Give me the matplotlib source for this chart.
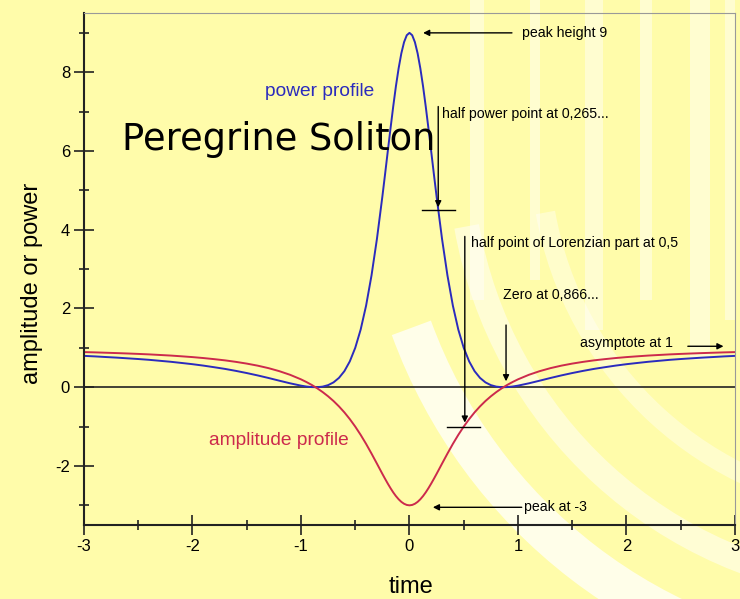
import matplotlib.pyplot as plt
from matplotlib.patches import Arc, Rectangle

plt.rcParams['axes.unicode_minus'] = False

# time samples (denser around the peak)
time = [-3.0, -2.9, -2.8, -2.7, -2.6, -2.5, -2.4, -2.3, -2.2, -2.1, -2.0,
        -1.9, -1.8, -1.7, -1.6, -1.5, -1.4, -1.3, -1.2, -1.1,
        -1.0, -0.95, -0.9, -0.85, -0.8, -0.75, -0.7, -0.65, -0.6, -0.55,
        -0.5, -0.45, -0.4, -0.35, -0.3, -0.25, -0.225, -0.2, -0.175, -0.15,
        -0.125, -0.1, -0.075, -0.05, -0.025,
        0.0, 0.025, 0.05, 0.075, 0.1, 0.125, 0.15, 0.175, 0.2, 0.225,
        0.25, 0.3, 0.35, 0.4, 0.45,
        0.5, 0.55, 0.6, 0.65, 0.7, 0.75, 0.8, 0.85, 0.9, 0.95, 1.0,
        1.1, 1.2, 1.3, 1.4, 1.5, 1.6, 1.7, 1.8, 1.9, 2.0,
        2.1, 2.2, 2.3, 2.4, 2.5, 2.6, 2.7, 2.8, 2.9, 3.0]

amplitude = [0.892, 0.885, 0.876, 0.867, 0.857, 0.846, 0.834, 0.819, 0.804, 0.785, 0.765,
             0.741, 0.713, 0.682, 0.644, 0.600, 0.548, 0.485, 0.408, 0.315,
             0.200, 0.132, 0.057, -0.028, -0.124, -0.231, -0.351, -0.487, -0.639, -0.810,
             -1.000, -1.210, -1.439, -1.685, -1.941, -2.200, -2.326, -2.448, -2.563, -2.670,
             -2.765, -2.846, -2.912, -2.960, -2.990,
             -3.000, -2.990, -2.960, -2.912, -2.846, -2.765, -2.670, -2.563, -2.448, -2.326,
             -2.200, -1.941, -1.685, -1.439, -1.210,
             -1.000, -0.810, -0.639, -0.487, -0.351, -0.231, -0.124, -0.028, 0.057, 0.132, 0.200,
             0.315, 0.408, 0.485, 0.548, 0.600, 0.644, 0.682, 0.713, 0.741, 0.765,
             0.785, 0.804, 0.819, 0.834, 0.846, 0.857, 0.867, 0.876, 0.885, 0.892]

power = [0.796, 0.783, 0.767, 0.752, 0.734, 0.716, 0.696, 0.671, 0.646, 0.616, 0.585,
         0.549, 0.508, 0.465, 0.415, 0.360, 0.300, 0.235, 0.166, 0.099,
         0.040, 0.017, 0.003, 0.001, 0.015, 0.053, 0.123, 0.237, 0.408, 0.656,
         1.000, 1.464, 2.071, 2.838, 3.767, 4.840, 5.410, 5.993, 6.569, 7.127,
         7.645, 8.100, 8.480, 8.764, 8.940,
         9.000, 8.940, 8.764, 8.480, 8.100, 7.645, 7.127, 6.569, 5.993, 5.410,
         4.840, 3.767, 2.838, 2.071, 1.464,
         1.000, 0.656, 0.408, 0.237, 0.123, 0.053, 0.015, 0.001, 0.003, 0.017, 0.040,
         0.099, 0.166, 0.235, 0.300, 0.360, 0.415, 0.465, 0.508, 0.549, 0.585,
         0.616, 0.646, 0.671, 0.696, 0.716, 0.734, 0.752, 0.767, 0.783, 0.796]

x_ticks = [-3, -2, -1, 0, 1, 2, 3]
y_ticks = [-2, 0, 2, 4, 6, 8]

bg = '#fffcaa'
blue = '#2b2bbd'
red = '#cc2a4c'
sans = ['Liberation Sans', 'DejaVu Sans']

fig = plt.figure(figsize=(7.4, 5.99), dpi=100, facecolor=bg)

# faded white picture behind the chart (rough imitation), in pixel coords
back = fig.add_axes([0, 0, 1, 1], zorder=-10)
back.set_xlim(0, 740)
back.set_ylim(599, 0)
back.axis('off')
for r, w, a, t2 in [(520, 30, 0.75, 160), (440, 18, 0.5, 170), (360, 14, 0.4, 170)]:
    back.add_patch(Arc((900, 150), 2 * r, 2 * r, theta1=95, theta2=t2,
                       color='white', lw=w, alpha=a))
for x0, w, y1 in [(470, 14, 300), (530, 10, 280), (585, 18, 330), (640, 12, 300),
                  (690, 20, 360), (725, 10, 320)]:
    back.add_patch(Rectangle((x0, 0), w, y1, color='white', alpha=0.45, lw=0))

ax = fig.add_axes([0.1135, 0.1235, 0.8797, 0.8545])
ax.set_facecolor('none')

ax.axhline(0, color='#222222', lw=1.2)
ax.plot(time, power, color=blue, lw=1.4)
ax.plot(time, amplitude, color=red, lw=1.4)

ax.set_xlim(-3, 3)
ax.set_ylim(-3.5, 9.5)
ax.set_xticks(x_ticks)
ax.set_yticks(y_ticks)
ax.set_xticks([-2.5, -1.5, -0.5, 0.5, 1.5, 2.5], minor=True)
ax.set_yticks([-3, -1, 1, 3, 5, 7, 9], minor=True)
ax.tick_params(which='major', direction='inout', length=14, width=1.2, color='#222222',
               labelsize=12, pad=3)
ax.tick_params(which='minor', direction='inout', length=7, width=1.2, color='#222222')
for lab in ax.get_xticklabels() + ax.get_yticklabels():
    lab.set_family(sans)

for side in ['left', 'bottom']:
    ax.spines[side].set_color('#222222')
    ax.spines[side].set_linewidth(1.5)
for side in ['top', 'right']:
    ax.spines[side].set_color('#999999')
    ax.spines[side].set_linewidth(0.8)

ax.set_xlabel('time', fontsize=17, family=sans)
ax.set_ylabel('amplitude or power', fontsize=17, family=sans)
ax.xaxis.set_label_coords(0.502, -0.099)
ax.yaxis.set_label_coords(-0.063, 0.473)

ax.text(-0.825, 7.51, 'power profile', color=blue, fontsize=13.8, family=sans, ha='center', va='center')
ax.text(-1.2, -1.35, 'amplitude profile', color=red, fontsize=13.8, family=sans, ha='center', va='center')
ax.text(-2.65, 6.3, 'Peregrine Soliton', fontsize=26.5, family='DejaVu Sans', va='center')

fs = 10.2
arrow = dict(arrowstyle='-|>', color='black', lw=1.0, mutation_scale=9)

# peak height
ax.annotate('', xy=(0.1, 9.0), xytext=(0.97, 9.0), arrowprops=arrow)
ax.text(1.04, 9.0, 'peak height 9', fontsize=fs, family=sans, va='center')

# half power point
ax.annotate('', xy=(0.265, 4.5), xytext=(0.265, 7.2), arrowprops=arrow)
ax.plot([0.115, 0.42], [4.5, 4.5], color='black', lw=1.0)
ax.text(0.3, 6.95, 'half power point at 0,265...', fontsize=fs, family=sans, va='center')

# lorenzian half point
ax.annotate('', xy=(0.51, -0.97), xytext=(0.51, 3.9), arrowprops=arrow)
ax.plot([0.35, 0.65], [-1.0, -1.0], color='black', lw=1.0)
ax.text(0.57, 3.67, 'half point of Lorenzian part at 0,5', fontsize=fs, family=sans, va='center')

# zero
ax.annotate('', xy=(0.89, 0.08), xytext=(0.89, 1.65), arrowprops=arrow)
ax.text(0.86, 2.33, 'Zero at 0,866...', fontsize=fs, family=sans, va='center')

# asymptote
ax.annotate('', xy=(2.92, 1.04), xytext=(2.54, 1.04), arrowprops=arrow)
ax.text(1.57, 1.13, 'asymptote at 1', fontsize=fs, family=sans, va='center')

# amplitude peak
ax.annotate('', xy=(0.19, -3.05), xytext=(1.06, -3.05), arrowprops=arrow)
ax.text(1.06, -3.03, 'peak at -3', fontsize=fs, family=sans, va='center')

fig.savefig('out.png', dpi=100, facecolor=bg)
